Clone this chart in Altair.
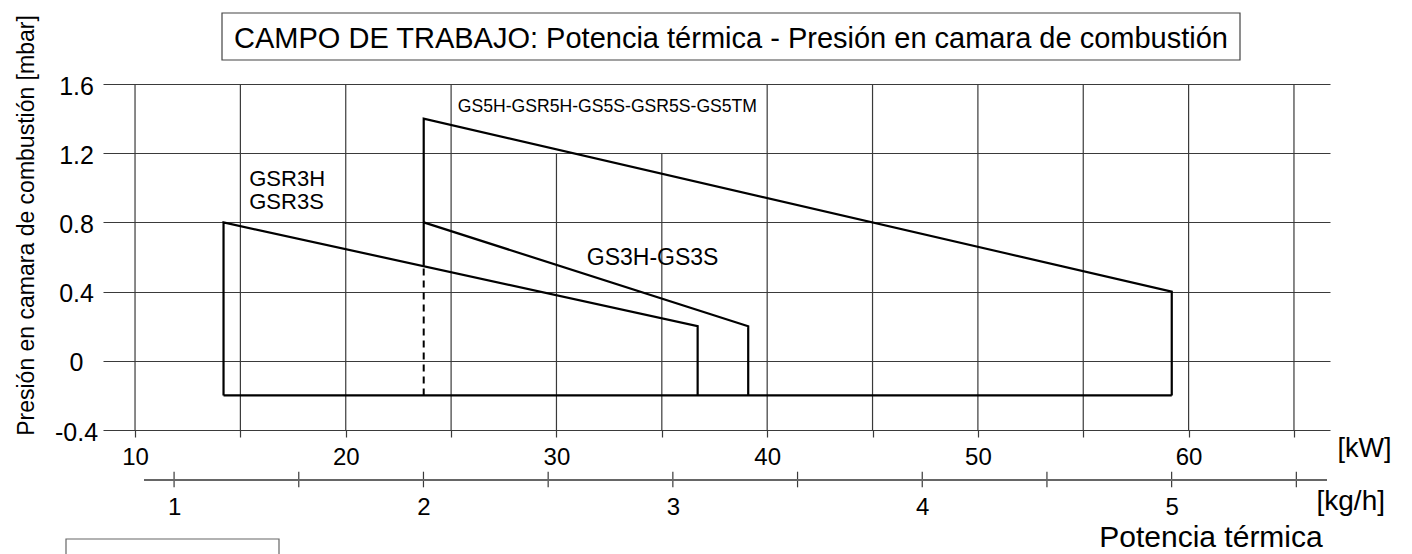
import altair as alt
import pandas as pd

# ---------------- data ----------------
TITLE = "CAMPO DE TRABAJO: Potencia térmica - Presión en camara de combustión"
Y_TITLE = "Presión en camara de combustión [mbar]"
X_TITLE = "Potencia térmica"
KW_UNIT = "[kW]"
KGH_UNIT = "[kg/h]"

Y_TICKS = [-0.4, 0.0, 0.4, 0.8, 1.2, 1.6]
GRID_KW = [10, 15, 20, 25, 30, 35, 40, 45, 50, 55, 60, 65]
GRID_TOP = [1.6, 1.6, 1.6, 1.6, 1.2, 1.2, 1.6, 1.6, 1.6, 1.6, 1.6, 1.6]
KGH_TICKS = [1, 1.5, 2, 2.5, 3, 3.5, 4, 4.5, 5, 5.5]
KGH_LABELS = [1, 2, 3, 4, 5]

GSR3_KW = [14.2, 14.2, 36.7, 36.7]
GSR3_MBAR = [-0.2, 0.8, 0.2, -0.2]
GS3_KW = [23.7, 39.1, 39.1]
GS3_MBAR = [0.8, 0.2, -0.2]
GS5_KW = [23.7, 23.7, 59.2, 59.2]
GS5_MBAR = [0.55, 1.4, 0.4, -0.2]
BASE_KW = [14.2, 59.2]
BASE_MBAR = [-0.2, -0.2]
DASH_KW = [23.7, 23.7]
DASH_MBAR = [-0.2, 0.55]

LABEL_TEXT = ["GSR3H", "GSR3S", "GS3H-GS3S", "GS5H-GSR5H-GS5S-GSR5S-GS5TM"]
LABEL_KW = [15.42, 15.42, 31.44, 25.32]
LABEL_MBAR = [1.008, 0.877, 0.556, 1.441]

KW_DOMAIN = [8.48, 66.71]
KGH_DOMAIN = [0.715, 5.635]
Y_DOMAIN = [-0.4, 1.6]

# ---------------- styling ----------------
W, H = 1227, 346
FONT = "Liberation Sans"
GRID = "#3a3a3a"

xkw = alt.Scale(domain=KW_DOMAIN, nice=False, zero=False)
xkg = alt.Scale(domain=KGH_DOMAIN, nice=False, zero=False)
ysc = alt.Scale(domain=Y_DOMAIN, nice=False, zero=False)

Y_AXIS = alt.Axis(
    values=Y_TICKS, grid=True, gridColor=GRID, gridWidth=1.2,
    ticks=False, tickSize=0, domain=False,
    labelExpr="toString(datum.value)", labelAlign="center",
    labelBaseline="middle", labelPadding=27, labelOffset=2,
    labelFontSize=25, labelColor="black", labelFont=FONT,
    title=Y_TITLE, titleX=-70, titleY=141, titleAngle=270,
    titleAlign="center", titleBaseline="alphabetic", titleFontSize=23,
    titleFontWeight="normal", titleColor="black", titleFont=FONT)

def ychan(field):
    return alt.Y(field, scale=ysc, axis=Y_AXIS)

grid_df = pd.DataFrame({"kw": GRID_KW, "mbar2": GRID_TOP,
                        "mbar": [Y_DOMAIN[0]] * len(GRID_KW)})

vgrid = alt.Chart(grid_df).mark_rule(color=GRID, strokeWidth=1.2).encode(
    x=alt.X("kw:Q", scale=xkw, axis=alt.Axis(
        orient="bottom", values=GRID_KW, grid=False, domain=False,
        ticks=True, tickSize=7, tickColor=GRID, tickWidth=1.2,
        labelExpr="datum.value % 10 === 0 ? toString(datum.value) : ''",
        labelFontSize=24, labelPadding=8, labelColor="black", labelFont=FONT,
        title=KW_UNIT, titleX=1234, titleY=26, titleAlign="left",
        titleBaseline="alphabetic", titleFontSize=27, titleFontWeight="normal",
        titleColor="black", titleFont=FONT)),
    y=ychan("mbar:Q"),
    y2="mbar2:Q",
)

def series(name, kws, mbars):
    return pd.DataFrame({"series": name, "order": list(range(len(kws))),
                         "kw": kws, "mbar": mbars})

lines_df = pd.concat([
    series("GSR3", GSR3_KW, GSR3_MBAR),
    series("GS3", GS3_KW, GS3_MBAR),
    series("GS5", GS5_KW, GS5_MBAR),
    series("base", BASE_KW, BASE_MBAR),
], ignore_index=True)

outline = alt.Chart(lines_df).mark_line(color="black", strokeWidth=2.2).encode(
    x=alt.X("kw:Q", scale=xkw, axis=None),
    y=ychan("mbar:Q"),
    detail="series:N",
    order="order:O",
)

dashed = alt.Chart(series("dash", DASH_KW, DASH_MBAR)).mark_line(
    color="black", strokeWidth=2, strokeDash=[7, 5]).encode(
    x=alt.X("kw:Q", scale=xkw, axis=None),
    y=ychan("mbar:Q"),
    order="order:O",
)

lab_df = pd.DataFrame({"text": LABEL_TEXT, "kw": LABEL_KW, "mbar": LABEL_MBAR})

def label_layer(names, size):
    return alt.Chart(lab_df).transform_filter(
        alt.FieldOneOfPredicate(field="text", oneOf=names)
    ).mark_text(align="left", baseline="alphabetic", fontSize=size, font=FONT,
                color="black").encode(
        x=alt.X("kw:Q", scale=xkw, axis=None),
        y=ychan("mbar:Q"),
        text="text:N",
    )

lab_gsr3 = label_layer(["GSR3H", "GSR3S"], 22)
lab_gs3 = label_layer(["GS3H-GS3S"], 23)
lab_gs5 = label_layer(["GS5H-GSR5H-GS5S-GSR5S-GS5TM"], 17.6)

one = pd.DataFrame({"t": [TITLE], "x": [X_TITLE]})

title_box = alt.Chart(one).mark_rect(filled=False, stroke="#444",
                                     strokeWidth=1.2).encode(
    x=alt.value(119), x2=alt.value(1137), y=alt.value(-71), y2=alt.value(-24))
title_txt = alt.Chart(one).mark_text(align="center", baseline="alphabetic",
                                     fontSize=29, font=FONT, color="black").encode(
    x=alt.value(628), y=alt.value(-36.5), text="t:N")
xtitle = alt.Chart(one).mark_text(align="center", baseline="alphabetic",
                                  fontSize=30, font=FONT, color="black").encode(
    x=alt.value(1108), y=alt.value(463), text="x:N")
corner_box = alt.Chart(one).mark_rect(filled=False, stroke="#666",
                                      strokeWidth=1.2).encode(
    x=alt.value(-37), x2=alt.value(176), y=alt.value(455), y2=alt.value(500))

kg_df = pd.DataFrame({"kgh": KGH_TICKS})
kg_ticks = alt.Chart(kg_df).mark_rule(color=GRID, strokeWidth=1.2).encode(
    x=alt.X("kgh:Q", scale=xkg, axis=alt.Axis(
        orient="bottom", offset=50, values=KGH_LABELS, ticks=False, tickSize=0,
        domain=False, grid=False, labelPadding=15, labelFontSize=24,
        labelColor="black", labelFont=FONT,
        labelExpr="toString(datum.value)",
        title=KGH_UNIT, titleX=1213, titleY=29.3, titleAlign="left",
        titleBaseline="alphabetic", titleFontSize=28, titleFontWeight="normal",
        titleColor="black", titleFont=FONT)),
    y=alt.value(387.7), y2=alt.value(403.3),
)
kg_line = alt.Chart(one).mark_rule(color="#666", strokeWidth=2).encode(
    x=alt.value(41), x2=alt.value(1224), y=alt.value(396))

chart = alt.layer(
    vgrid, outline, dashed, lab_gsr3, lab_gs3, lab_gs5,
    title_box, title_txt, xtitle, corner_box, kg_ticks, kg_line,
).resolve_scale(x="independent").properties(
    width=W, height=H,
    autosize=alt.AutoSizeParams(type="none"),
    padding={"left": 95, "top": 76, "right": 73, "bottom": 124},
).configure(font=FONT).configure_view(stroke="transparent")

chart.save("out.html", embed_options={"renderer": "svg", "actions": False})
